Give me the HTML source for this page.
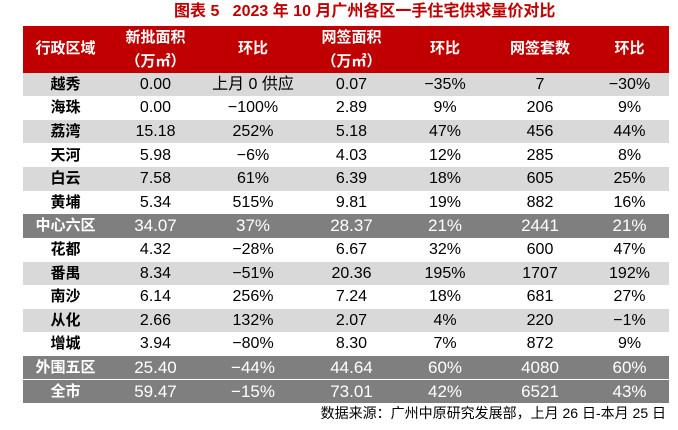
<!DOCTYPE html>
<html><head><meta charset="utf-8"><style>
body{margin:0;width:678px;height:430px;background:#fff;font-family:"Liberation Sans","Noto Sans CJK SC",sans-serif;position:relative;overflow:hidden}
.t{position:absolute;left:174px;top:1px;color:#c00000;font-weight:bold;font-size:16px;line-height:22px;white-space:nowrap}
.r{position:absolute;left:23px;width:646px;display:flex}
.r div{text-align:center;font-size:16px;color:#000;white-space:nowrap}
.r div:first-child{font-weight:bold;font-size:15px}
.h{background:#c00000}
.h div{color:#fff!important;font-weight:bold;font-size:15px!important;line-height:24px}
.g{background:#d9d9d9}
.d{background:#7f7f7f}
.d div{color:#fff;font-size:17px}
.d div:first-child{font-size:15px}
.f{position:absolute;right:12px;top:404px;font-size:14px;line-height:18px;color:#000}
</style></head><body>
<div class="t">图表 5&nbsp;&nbsp;&nbsp;2023 年 10 月广州各区一手住宅供求量价对比</div>
<div id="t"></div>
<div class="f">数据来源：广州中原研究发展部，上月 26 日-本月 25 日</div>
<script>
var w=[85,95,100,97,90,100,79];
var rows=[
["h","行政区域","新批面积<br>（万㎡）","环比","网签面积<br>（万㎡）","环比","网签套数","环比"],
["g","越秀","0.00","上月 0 供应","0.07","−35%","7","−30%"],
["","海珠","0.00","−100%","2.89","9%","206","9%"],
["g","荔湾","15.18","252%","5.18","47%","456","44%"],
["","天河","5.98","−6%","4.03","12%","285","8%"],
["g","白云","7.58","61%","6.39","18%","605","25%"],
["","黄埔","5.34","515%","9.81","19%","882","16%"],
["d","中心六区","34.07","37%","28.37","21%","2441","21%"],
["","花都","4.32","−28%","6.67","32%","600","47%"],
["g","番禺","8.34","−51%","20.36","195%","1707","192%"],
["","南沙","6.14","256%","7.24","18%","681","27%"],
["g","从化","2.66","132%","2.07","4%","220","−1%"],
["","增城","3.94","−80%","8.30","7%","872","9%"],
["d","外围五区","25.40","−44%","44.64","60%","4080","60%"],
["d","全市","59.47","−15%","73.01","42%","6521","43%"]];
var y=26,h="";
rows.forEach(function(r,i){
 var hh=i==0?46.7:23.6;
 var s='<div class="r '+r[0]+'" style="top:'+y+'px;height:'+hh+'px">';
 for(var j=0;j<7;j++){var two=(j==1||j==3);s+='<div style="width:'+w[j]+'px;'+(i==0?(two?'padding-top:0px':'line-height:46px'):'line-height:'+hh+'px')+'">'+r[j+1]+'</div>';}
 h+=s+'</div>';y+=hh;});
document.getElementById('t').innerHTML=h;
</script>
</body></html>
